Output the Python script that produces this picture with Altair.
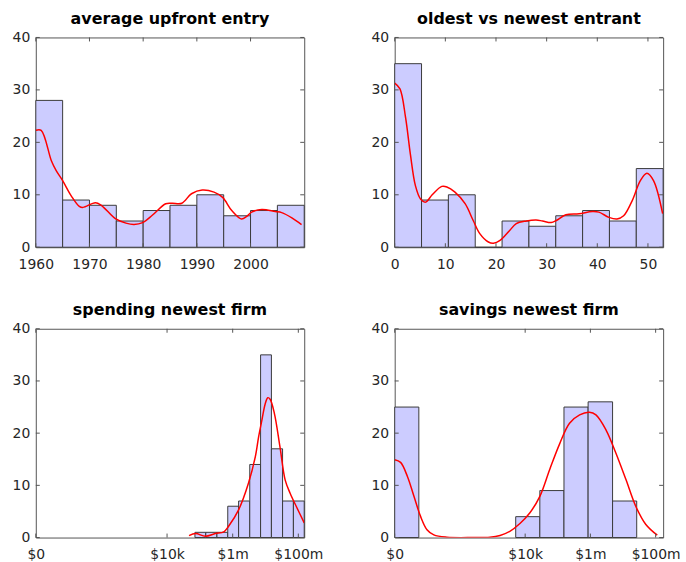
import altair as alt
import pandas as pd

# ---------------- data ----------------
y_ticks = [0, 10, 20, 30, 40]

# panel 1: average upfront entry
p1_title = "average upfront entry"
p1_bin_start = [1960, 1965, 1970, 1975, 1980, 1985, 1990, 1995, 2000, 2005]
p1_bin_end = [1965, 1970, 1975, 1980, 1985, 1990, 1995, 2000, 2005, 2010]
p1_counts = [28, 9, 8, 5, 7, 8, 10, 6, 7, 8]
p1_kde_x = [1960, 1961, 1962.9, 1963.8, 1965, 1966.6, 1968.1, 1968.8, 1971.1, 1972.2,
            1974.9, 1976.8, 1978.3, 1979.9, 1981.7, 1984.2, 1985.4, 1987.2, 1989, 1991,
            1993.2, 1994.8, 1996.5, 1998.3, 1999.3, 2000.2, 2002.1, 2004.6, 2005.8, 2007.7, 2009.5]
p1_kde_y = [22.3, 22.3, 16.5, 14.6, 12.7, 9.8, 7.8, 7.6, 8.5, 8.0,
            5.4, 4.6, 4.35, 4.7, 6.1, 8.3, 8.4, 8.4, 10.2, 10.9,
            10.5, 9.5, 7.0, 5.4, 5.9, 6.7, 7.2, 6.8, 6.6, 5.6, 4.3]
p1_xticks = [1960, 1970, 1980, 1990, 2000]
p1_xlabels = ["1960", "1970", "1980", "1990", "2000"]
p1_xdomain = [1960, 2010]

# panel 2: oldest vs newest entrant
p2_title = "oldest vs newest entrant"
p2_bin_start = [0, 5.3, 10.6, 15.9, 21.2, 26.5, 31.8, 37.1, 42.4, 47.7]
p2_bin_end = [5.3, 10.6, 15.9, 21.2, 26.5, 31.8, 37.1, 42.4, 47.7, 53.0]
p2_counts = [35, 9, 10, 0, 5, 4, 6, 7, 5, 15]
p2_kde_x = [0, 1.04, 2.15, 3.1, 4.1, 5.1, 6.1, 7.4, 9.3, 10.3, 11.9, 13.9, 15.5, 16.8,
            18.5, 19.5, 20.8, 22.7, 24, 26, 27.9, 29.2, 30.9, 31.9, 33.8, 36.4, 39, 40.3,
            42.3, 43.9, 45.2, 46.9, 48.5, 49.8, 51.1, 52.9]
p2_kde_y = [31.3, 30.2, 24.7, 17.7, 11.7, 9.2, 8.6, 10.0, 11.6, 11.5, 10.5, 8.3, 5.1, 2.6,
            1.0, 0.76, 1.3, 3.2, 4.5, 5.0, 5.2, 5.0, 4.7, 5.1, 6.2, 6.4, 6.8, 6.7,
            5.7, 5.4, 6.0, 8.9, 12.7, 14.1, 12.7, 6.4]
p2_xticks = [0, 10, 20, 30, 40, 50]
p2_xlabels = ["0", "10", "20", "30", "40", "50"]
p2_xdomain = [0, 53]

# panel 3: spending newest firm (x in log10 dollars)
p3_title = "spending newest firm"
p3_bin_start = [4.85, 5.18, 5.52, 5.85, 6.18, 6.52, 6.85, 7.18, 7.52, 7.85]
p3_bin_end = [5.18, 5.52, 5.85, 6.18, 6.52, 6.85, 7.18, 7.52, 7.85, 8.18]
p3_counts = [1, 1, 1, 6, 7, 14, 35, 17, 7, 7]
p3_kde_x = [4.67, 4.87, 5.17, 5.47, 5.73, 5.88, 6.18, 6.48, 6.69, 6.79, 6.89, 6.99, 7.07,
            7.14, 7.27, 7.44, 7.6, 7.75, 7.95, 8.18]
p3_kde_y = [0.38, 0.76, 0.25, 0.76, 1.1, 2.2, 5.3, 10.4, 15.5, 19.3, 22.5, 25.6, 26.8,
            26.5, 23.8, 17.4, 11.0, 8.5, 5.8, 2.8]
p3_xticks = [0, 4, 6, 8]
p3_xlabels = ["$0", "$10k", "$1m", "$100m"]
p3_xdomain = [0, 8.18]

# panel 4: savings newest firm (x in log10 dollars)
p4_title = "savings newest firm"
p4_bin_start = [0, 3.71, 4.45, 5.19, 5.93, 6.68]
p4_bin_end = [0.74, 4.45, 5.19, 5.93, 6.68, 7.42]
p4_counts = [25, 4, 9, 25, 26, 7]
p4_kde_x = [0, 0.18, 0.39, 0.59, 0.79, 0.99, 1.2, 1.6, 2.4, 2.92, 3.23, 3.53, 3.84, 4.14,
            4.45, 4.75, 5.06, 5.36, 5.67, 5.97, 6.17, 6.48, 6.78, 7.09, 7.39, 7.7, 8.05]
p4_kde_y = [14.9, 14.4, 11.7, 7.9, 4.1, 1.5, 0.5, 0.06, 0.0, 0.06, 0.4, 1.2, 2.7, 4.7,
            7.9, 13.0, 18.0, 21.9, 23.5, 24.0, 23.5, 20.6, 16.2, 11.1, 6.0, 2.5, 0.45]
p4_xticks = [0, 4, 6, 8]
p4_xlabels = ["$0", "$10k", "$1m", "$100m"]
p4_xdomain = [0, 8.23]

# ---------------- style ----------------
FONT = "DejaVu Sans"
FRAME = "#555555"
BAR_FILL = "#ccccff"
BAR_STROKE = "#3a3a3a"
LINE = "#ff0000"
W = 270
TICK = 4


def label_expr(values, labels):
    expr = "''"
    for v, l in reversed(list(zip(values, labels))):
        expr = f"datum.value == {v} ? '{l}' : ({expr})"
    return expr


def panel(title, starts, ends, counts, kx, ky, xticks, xlabels, xdomain, h):
    bars_df = pd.DataFrame({"x0": starts, "x1": ends, "count": counts})
    line_df = pd.DataFrame({"x": kx, "y": ky})
    ytick_df = pd.DataFrame({"v": y_ticks})
    xtick_df = pd.DataFrame({"v": xticks})

    xscale = alt.Scale(domain=xdomain, nice=False, zero=False)
    yscale = alt.Scale(domain=[0, 40], nice=False)

    xaxis = alt.Axis(values=xticks, labelExpr=label_expr(xticks, xlabels), ticks=False,
                     tickSize=0, domain=False, grid=False, title=None, labelPadding=10,
                     labelFlush=False, labelOverlap=False)
    yaxis = alt.Axis(values=y_ticks, ticks=False, tickSize=0, domain=False, grid=False,
                     title=None, labelPadding=6, labelOverlap=False)

    bars = alt.Chart(bars_df).mark_rect(fill=BAR_FILL, stroke=BAR_STROKE, strokeWidth=1).encode(
        x=alt.X("x0:Q", scale=xscale, axis=xaxis),
        x2="x1:Q",
        y=alt.Y("count:Q", scale=yscale, axis=yaxis),
        y2=alt.datum(0),
    )
    line = alt.Chart(line_df).mark_line(color=LINE, strokeWidth=1.5, interpolate="catmull-rom",
                                        clip=True).encode(
        x=alt.X("x:Q", scale=xscale, axis=xaxis),
        y=alt.Y("y:Q", scale=yscale, axis=yaxis),
    )
    yt_left = alt.Chart(ytick_df).mark_rule(color=FRAME, strokeWidth=1).encode(
        y=alt.Y("v:Q", scale=yscale, axis=yaxis), x=alt.value(0), x2=alt.value(TICK))
    yt_right = alt.Chart(ytick_df).mark_rule(color=FRAME, strokeWidth=1).encode(
        y=alt.Y("v:Q", scale=yscale, axis=yaxis), x=alt.value(W - TICK), x2=alt.value(W))
    xt_bottom = alt.Chart(xtick_df).mark_rule(color=FRAME, strokeWidth=1).encode(
        x=alt.X("v:Q", scale=xscale, axis=xaxis), y=alt.value(h), y2=alt.value(h - TICK))
    xt_top = alt.Chart(xtick_df).mark_rule(color=FRAME, strokeWidth=1).encode(
        x=alt.X("v:Q", scale=xscale, axis=xaxis), y=alt.value(0), y2=alt.value(TICK))

    return alt.layer(bars, line, yt_left, yt_right, xt_bottom, xt_top).properties(
        title=alt.TitleParams(title, frame="group"), width=W, height=h)


p1 = panel(p1_title, p1_bin_start, p1_bin_end, p1_counts, p1_kde_x, p1_kde_y,
           p1_xticks, p1_xlabels, p1_xdomain, 211)
p2 = panel(p2_title, p2_bin_start, p2_bin_end, p2_counts, p2_kde_x, p2_kde_y,
           p2_xticks, p2_xlabels, p2_xdomain, 211)
p3 = panel(p3_title, p3_bin_start, p3_bin_end, p3_counts, p3_kde_x, p3_kde_y,
           p3_xticks, p3_xlabels, p3_xdomain, 210)
p4 = panel(p4_title, p4_bin_start, p4_bin_end, p4_counts, p4_kde_x, p4_kde_y,
           p4_xticks, p4_xlabels, p4_xdomain, 210)

chart = alt.concat(
    p1, p2, p3, p4, columns=2, spacing={"row": 82, "column": 91}, bounds="flush"
).properties(
    padding={"left": 11, "top": 8, "right": 5, "bottom": 12},
    background="white",
).configure_view(
    stroke=FRAME, strokeWidth=1
).configure_axis(
    labelFont=FONT, labelFontSize=14, labelColor="#262626"
).configure_title(
    font=FONT, fontSize=16, fontWeight="bold", color="#000000", offset=0,
    anchor="middle", baseline="alphabetic"
)

chart.save("out.html", embed_options={"renderer": "svg", "actions": False})
